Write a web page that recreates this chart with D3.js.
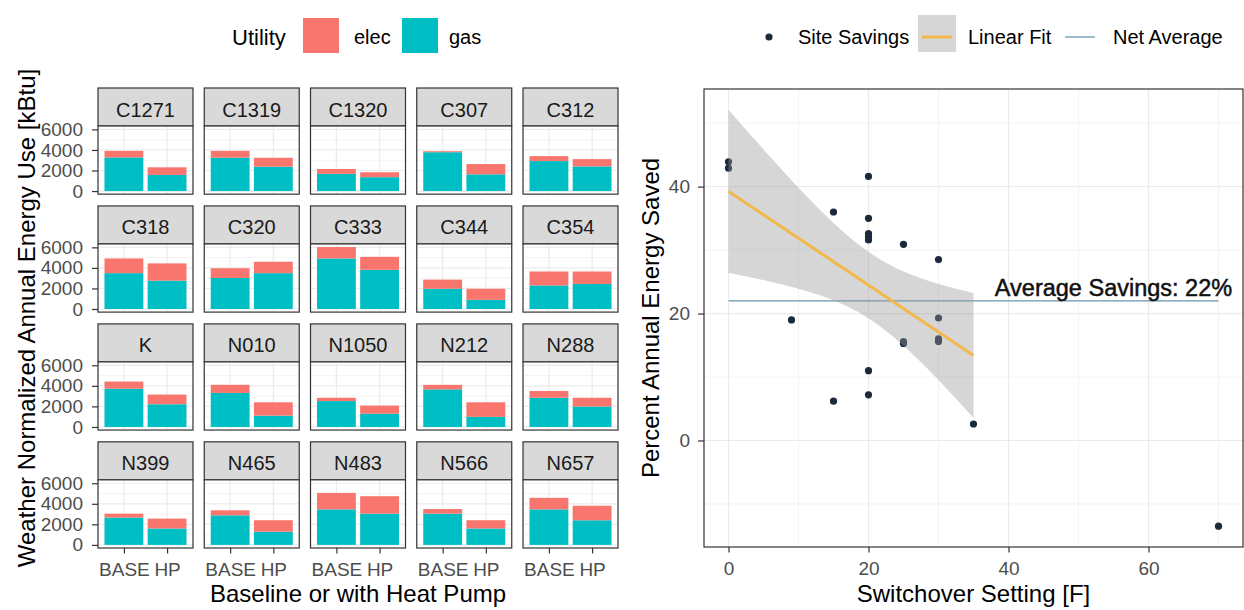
<!DOCTYPE html>
<html>
<head>
<meta charset="utf-8">
<script src="https://cdn.jsdelivr.net/npm/d3@7"></script>
<style>
body { margin: 0; background: #fff; }
svg { font-family: Arial, "Liberation Sans", sans-serif; }
</style>
</head>
<body>
<svg id="chart" width="1244" height="610"></svg>
<script>
// ---- left: energy use per site (kBtu) ----
const sites = ['C1271', 'C1319', 'C1320', 'C307', 'C312',
               'C318', 'C320', 'C333', 'C344', 'C354',
               'K', 'N010', 'N1050', 'N212', 'N288',
               'N399', 'N465', 'N483', 'N566', 'N657']
const baseGas  = [3270, 3250, 1670, 3780, 2920, 3490, 3020, 4920, 1970, 2290,
                  3720, 3310, 2520, 3660, 2840, 2660, 2880, 3460, 3040, 3460]
const baseElec = [ 640,  660,  480,  100,  480, 1430,  950, 1110,  890, 1360,
                   700,  790,  320,  440,  660,  380,  490, 1600,  450, 1120]
const hpGas    = [1570, 2370, 1350, 1630, 2400, 2760, 3490, 3810,  890, 2440,
                  2210, 1100, 1290,  980, 1990, 1600, 1280, 3040, 1600, 2400]
const hpElec   = [ 740,  870,  480, 1000,  710, 1680, 1110, 1270, 1080, 1210,
                   940, 1300,  790, 1420,  850,  960, 1120, 1700,  800, 1410]
const scenarios = ['BASE', 'HP']
const utilities = ['elec', 'gas']
const energyTicks = [0, 2000, 4000, 6000]
const energyMinor = [1000, 3000, 5000]

// ---- right: savings vs switchover ----
const switchover = [0, 0, 9, 15, 15, 20, 20, 20, 20, 20, 20, 20, 25, 25, 25, 30, 30, 30, 30, 35, 70]
const savings = [43.9, 42.9, 19.0, 36.0, 6.2, 41.6, 35.0, 32.6, 32.1, 31.6, 11.0, 7.2,
                 30.9, 15.6, 15.3, 28.5, 19.3, 16.0, 15.6, 2.6, -13.5]
const fitRange = [0, 35]
const netAverage = 22
const settingTicks = [0, 20, 40, 60]
const settingMinor = [10, 30, 50, 70]
const savingsTicks = [0, 20, 40]
const savingsMinor = [-10, 10, 30, 50]

const colors = { elec: '#F8766D', gas: '#00BFC4' }
const ink = '#333333', tickInk = '#4d4d4d', grid = '#ebebeb'
const font = 'Arial, Liberation Sans, sans-serif'

const svg = d3.select('#chart')

function styleAxis (a) {
    a.select('.domain').remove()
    a.selectAll('line').attr('stroke', ink).attr('stroke-width', 1.2)
    a.selectAll('text').attr('font-size', 19).attr('fill', tickInk).attr('font-family', font)
}

// ================= left facets =================
let records = []
sites.forEach((s, i) => {
    records.push({ site: s, scenario: 'BASE', gas: baseGas[i], elec: baseElec[i] })
    records.push({ site: s, scenario: 'HP', gas: hpGas[i], elec: hpElec[i] })
})
let maxTotal = d3.max(records, d => d.gas + d.elec)

let col = d3.scaleBand().domain(d3.range(5)).range([98, 618]).paddingInner(0.106)
let row = d3.scaleBand().domain(d3.range(4)).range([88, 548]).paddingInner(0.1)
let stripH = 38
let pw = col.bandwidth()
let ph = row.bandwidth() - stripH

let xs = d3.scalePoint().domain(scenarios).range([0, pw]).padding(0.6)
let ys = d3.scaleLinear().domain([-0.05 * maxTotal, 1.05 * maxTotal]).range([ph, 0])
let barW = xs.step() * 0.9

let stack = d3.stack().keys(['gas', 'elec'])

sites.forEach((s, i) => {
    let c = i % 5, r = Math.floor(i / 5)
    let g = svg.append('g').attr('transform', `translate(${col(c)},${row(r)})`)

    // strip
    g.append('rect').attr('width', pw).attr('height', stripH)
    .attr('fill', '#d9d9d9').attr('stroke', ink).attr('stroke-width', 1.2)
    g.append('text').text(s)
    .attr('x', pw / 2).attr('y', 28.5)
    .attr('text-anchor', 'middle')
    .attr('font-size', 20).attr('fill', '#1a1a1a')

    let p = g.append('g').attr('transform', `translate(0,${stripH})`)
    p.append('rect').attr('width', pw).attr('height', ph).attr('fill', '#fff')

    p.selectAll('line.minor').data(energyMinor).enter().append('line')
    .attr('x1', 0).attr('x2', pw).attr('y1', d => ys(d)).attr('y2', d => ys(d))
    .attr('stroke', grid).attr('stroke-width', 0.6)
    p.selectAll('line.hmajor').data(energyTicks).enter().append('line')
    .attr('x1', 0).attr('x2', pw).attr('y1', d => ys(d)).attr('y2', d => ys(d))
    .attr('stroke', grid).attr('stroke-width', 1.2)
    p.selectAll('line.vmajor').data(scenarios).enter().append('line')
    .attr('y1', 0).attr('y2', ph).attr('x1', d => xs(d)).attr('x2', d => xs(d))
    .attr('stroke', grid).attr('stroke-width', 1.2)

    let rows = records.filter(d => d.site === s)
    let layers = stack(rows)
    p.selectAll('g.layer').data(layers).enter().append('g')
    .attr('fill', d => colors[d.key])
    .selectAll('rect').data(d => d).enter().append('rect')
    .attr('x', d => xs(d.data.scenario) - barW / 2)
    .attr('width', barW)
    .attr('y', d => ys(d[1]))
    .attr('height', d => ys(d[0]) - ys(d[1]))

    p.append('rect').attr('width', pw).attr('height', ph)
    .attr('fill', 'none').attr('stroke', ink).attr('stroke-width', 1.2)

    if (c === 0) {
        p.append('g')
        .call(d3.axisLeft(ys).tickValues(energyTicks).tickFormat(d3.format('d')).tickSize(6).tickPadding(9))
        .call(styleAxis)
    }
    if (r === 3) {
        p.append('g').attr('transform', `translate(0,${ph})`)
        .call(d3.axisBottom(xs).tickSize(5.5).tickPadding(9))
        .call(styleAxis)
    }
})

svg.append('text').text('Baseline or with Heat Pump')
.attr('x', (98 + 618) / 2).attr('y', 602)
.attr('text-anchor', 'middle').attr('font-size', 24).attr('fill', '#000')

svg.append('text').text('Weather Normalized Annual Energy Use [kBtu]')
.attr('transform', `translate(35,${(row(0) + 548) / 2}) rotate(-90)`)
.attr('text-anchor', 'middle').attr('font-size', 24).attr('fill', '#000')

// left legend
let lg = svg.append('g')
lg.append('text').text('Utility').attr('x', 232).attr('y', 37)
.attr('dominant-baseline', 'central').attr('font-size', 22)
let keyX = [303, 402], labX = [354, 449]
lg.selectAll('rect.key').data(utilities).enter().append('rect')
.attr('x', (d, i) => keyX[i]).attr('y', 18).attr('width', 36).attr('height', 35)
.attr('fill', d => colors[d])
lg.selectAll('text.key').data(utilities).enter().append('text')
.text(d => d).attr('x', (d, i) => labX[i]).attr('y', 37)
.attr('dominant-baseline', 'central').attr('font-size', 20)

// ================= right scatter =================
let L = 704, R = 1243, T = 89, B = 547

let pts = switchover.map((x, i) => ({ x: x, y: savings[i] }))
let fitPts = pts.filter(d => d.x >= fitRange[0] && d.x <= fitRange[1])
let n = fitPts.length
let mx = d3.mean(fitPts, d => d.x), my = d3.mean(fitPts, d => d.y)
let sxx = d3.sum(fitPts, d => (d.x - mx) ** 2)
let sxy = d3.sum(fitPts, d => (d.x - mx) * (d.y - my))
let slope = sxy / sxx, icpt = my - slope * mx
let se = Math.sqrt(d3.sum(fitPts, d => (d.y - icpt - slope * d.x) ** 2) / (n - 2))
let tq = 2.1009 // t(0.975, df = 18)
let fit = d3.range(81).map(k => {
    let x = fitRange[0] + k * (fitRange[1] - fitRange[0]) / 80
    let yh = icpt + slope * x
    let w = tq * se * Math.sqrt(1 / n + (x - mx) ** 2 / sxx)
    return { x: x, y: yh, lo: yh - w, hi: yh + w }
})

let xExt = d3.extent(switchover)
let yLo = Math.min(d3.min(savings), d3.min(fit, d => d.lo))
let yHi = Math.max(d3.max(savings), d3.max(fit, d => d.hi))
let xPad = 0.05 * (xExt[1] - xExt[0]), yPad = 0.05 * (yHi - yLo)
let x = d3.scaleLinear().domain([xExt[0] - xPad, xExt[1] + xPad]).range([L, R])
let y = d3.scaleLinear().domain([yLo - yPad, yHi + yPad]).range([B, T])

let rp = svg.append('g')
rp.append('rect').attr('x', L).attr('y', T).attr('width', R - L).attr('height', B - T).attr('fill', '#fff')
rp.selectAll('line.xminor').data(settingMinor).enter().append('line')
.attr('x1', d => x(d)).attr('x2', d => x(d)).attr('y1', T).attr('y2', B)
.attr('stroke', grid).attr('stroke-width', 0.6)
rp.selectAll('line.yminor').data(savingsMinor).enter().append('line')
.attr('y1', d => y(d)).attr('y2', d => y(d)).attr('x1', L).attr('x2', R)
.attr('stroke', grid).attr('stroke-width', 0.6)
rp.selectAll('line.xmajor').data(settingTicks).enter().append('line')
.attr('x1', d => x(d)).attr('x2', d => x(d)).attr('y1', T).attr('y2', B)
.attr('stroke', grid).attr('stroke-width', 1.2)
rp.selectAll('line.ymajor').data(savingsTicks).enter().append('line')
.attr('y1', d => y(d)).attr('y2', d => y(d)).attr('x1', L).attr('x2', R)
.attr('stroke', grid).attr('stroke-width', 1.2)

// net average
rp.append('line')
.attr('x1', x(xExt[0])).attr('x2', x(xExt[1]))
.attr('y1', y(netAverage)).attr('y2', y(netAverage))
.attr('stroke', '#6497ab').attr('stroke-width', 1.3)

rp.selectAll('circle.pt').data(pts).enter().append('circle')
.attr('cx', d => x(d.x)).attr('cy', d => y(d.y)).attr('r', 3.6)
.attr('fill', '#1b2a3b')

rp.append('path').datum(fit)
.attr('d', d3.area().x(d => x(d.x)).y0(d => y(d.lo)).y1(d => y(d.hi)))
.attr('fill', '#999999').attr('fill-opacity', 0.4)

rp.append('path').datum(fit)
.attr('d', d3.line().x(d => x(d.x)).y(d => y(d.y)))
.attr('fill', 'none').attr('stroke', '#F2B84B').attr('stroke-width', 3)

rp.append('text').text(`Average Savings: ${netAverage}%`)
.attr('x', x(55)).attr('y', y(netAverage) - 5)
.attr('text-anchor', 'middle').attr('font-size', 23.5)
.attr('fill', '#111').attr('stroke', '#111').attr('stroke-width', 0.5)

rp.append('rect').attr('x', L).attr('y', T).attr('width', R - L).attr('height', B - T)
.attr('fill', 'none').attr('stroke', ink).attr('stroke-width', 1.2)

rp.append('g').attr('transform', `translate(${L},0)`)
.call(d3.axisLeft(y).tickValues(savingsTicks).tickSize(6).tickPadding(8))
.call(styleAxis)

rp.append('g').attr('transform', `translate(0,${B})`)
.call(d3.axisBottom(x).tickValues(settingTicks).tickSize(5.5).tickPadding(9))
.call(styleAxis)

svg.append('text').text('Switchover Setting [F]')
.attr('x', (L + R) / 2).attr('y', 602)
.attr('text-anchor', 'middle').attr('font-size', 24)

svg.append('text').text('Percent Annual Energy Saved')
.attr('transform', `translate(659,${(T + B) / 2}) rotate(-90)`)
.attr('text-anchor', 'middle').attr('font-size', 24)

// right legend
let rl = svg.append('g')
rl.append('circle').attr('cx', 769).attr('cy', 37).attr('r', 3.6).attr('fill', '#1b2a3b')
rl.append('rect').attr('x', 918).attr('y', 15).attr('width', 38).attr('height', 37)
.attr('fill', '#999999').attr('fill-opacity', 0.4)
rl.append('line').attr('x1', 922).attr('x2', 952).attr('y1', 37).attr('y2', 37)
.attr('stroke', '#F2B84B').attr('stroke-width', 3)
rl.append('line').attr('x1', 1065).attr('x2', 1095).attr('y1', 37).attr('y2', 37)
.attr('stroke', '#6497ab').attr('stroke-width', 1.3)
let rlab = ['Site Savings', 'Linear Fit', 'Net Average'], rlabX = [798, 968, 1113]
rl.selectAll('text').data(rlab).enter().append('text')
.text(d => d).attr('x', (d, i) => rlabX[i]).attr('y', 37)
.attr('dominant-baseline', 'central').attr('font-size', 20)
</script>
</body>
</html>
